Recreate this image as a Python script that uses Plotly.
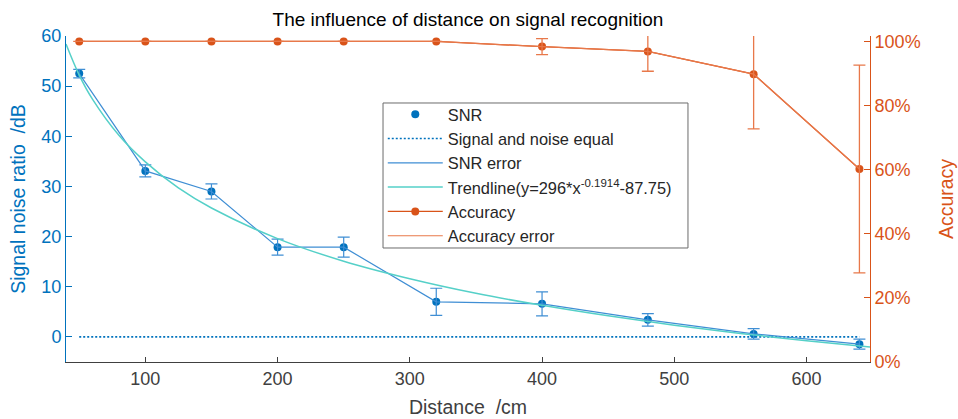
import plotly.graph_objects as go

# ---- data ----
distance = [50, 100, 150, 200, 250, 320, 400, 480, 560, 640]
snr = [52.5, 33.1, 29.0, 17.9, 17.9, 7.0, 6.6, 3.4, 0.6, -1.45]
snr_err = [0.85, 1.2, 1.5, 1.6, 2.0, 2.7, 2.4, 1.25, 1.05, 1.0]
accuracy = [100, 100, 100, 100, 100, 100, 98.4, 96.9, 89.8, 60.2]
accuracy_err = [0, 0, 0, 0, 0, 0, 2.5, 6.2, 17.1, 32.4]
equal_x = [50, 640]
equal_y = [0, 0]
trend_x = [40, 50, 60, 80, 100, 125, 150, 200, 250, 300, 350, 400, 450, 500, 550, 600, 648]
trend_y = [58.4, 52.2, 47.4, 40.2, 34.9, 29.7, 25.7, 19.6, 15.1, 11.6, 8.7, 6.3, 4.2, 2.35, 0.7, -0.75, -2.0]
x_ticks = [100, 200, 300, 400, 500, 600]
y_ticks = [0, 10, 20, 30, 40, 50, 60]
acc_ticks = [0, 20, 40, 60, 80, 100]
acc_tick_labels = ["0%", "20%", "40%", "60%", "80%", "100%"]

BLUE = "#0072BD"
BLUE_ERR = "#3F8ED4"
TREND = "#55D0C8"
ORANGE = "#D95319"
ORANGE_ERR = "#E8784A"
FONT = "Liberation Sans, Arial, sans-serif"

fig = go.Figure()
fig.add_trace(go.Scatter(x=distance, y=snr, mode="markers", name="SNR",
                         marker=dict(color=BLUE, size=8)))
fig.add_trace(go.Scatter(x=equal_x, y=equal_y, mode="lines", name="Signal and noise equal",
                         line=dict(color=BLUE, width=1.6, dash="2px,2px")))
fig.add_trace(go.Scatter(x=distance, y=snr, mode="lines", name="SNR error",
                         line=dict(color=BLUE_ERR, width=1.2),
                         error_y=dict(type="data", array=snr_err, color=BLUE_ERR,
                                      thickness=1.2, width=6)))
fig.add_trace(go.Scatter(x=trend_x, y=trend_y, mode="lines", line_shape="spline",
                         name="Trendline(y=296*x<sup>-0.1914</sup>-87.75)",
                         line=dict(color=TREND, width=1.5)))
fig.add_trace(go.Scatter(x=distance, y=accuracy, mode="lines+markers", name="Accuracy",
                         yaxis="y2", line=dict(color=ORANGE, width=1.3),
                         marker=dict(color=ORANGE, size=8)))
fig.add_trace(go.Scatter(x=distance, y=accuracy, mode="lines", name="Accuracy error",
                         yaxis="y2", line=dict(color=ORANGE_ERR, width=1.2),
                         error_y=dict(type="data", array=accuracy_err, color=ORANGE_ERR,
                                      thickness=1.3, width=6)))

# legend frame (drawn as a shape so its size matches the reference box)
fig.add_shape(type="rect", xref="paper", yref="paper",
              x0=0.3943, x1=0.7736, y0=0.3497, y1=0.7945,
              line=dict(color="#6b6b6b", width=1), fillcolor="white", layer="above")

fig.update_layout(
    width=958, height=419,
    margin=dict(l=66, r=88, t=36, b=57, autoexpand=False),
    paper_bgcolor="white", plot_bgcolor="white",
    font=dict(family=FONT, size=18, color="#262626"),
    title=dict(text="The influence of distance on signal recognition",
               font=dict(size=19, color="#000000"), x=0.4885, xanchor="center",
               y=0.955, yanchor="middle"),
    xaxis=dict(range=[40, 648], tickvals=x_ticks, showgrid=False, zeroline=False,
               showline=True, linecolor="#404040", linewidth=1,
               ticks="inside", ticklen=5, tickcolor="#404040",
               tickfont=dict(size=18, color="#404040"),
               title=dict(text="Distance \u00a0/cm", font=dict(size=19.5, color="#404040"),
                          standoff=12)),
    yaxis=dict(range=[-5, 60], tickvals=y_ticks, showgrid=False, zeroline=False,
               showline=True, linecolor=BLUE, linewidth=1,
               ticks="inside", ticklen=6, tickcolor=BLUE,
               tickfont=dict(size=18, color=BLUE),
               title=dict(text="Signal noise ratio \u00a0/dB", font=dict(size=19.5, color=BLUE),
                          standoff=10)),
    yaxis2=dict(range=[0, 101.7], overlaying="y", side="right", tickvals=acc_ticks,
                ticktext=acc_tick_labels, showgrid=False, zeroline=False,
                showline=True, linecolor=ORANGE, linewidth=1,
                ticks="inside", ticklen=6, tickcolor=ORANGE,
                tickfont=dict(size=18, color=ORANGE),
                title=dict(text="Accuracy", font=dict(size=19.5, color=ORANGE), standoff=19)),
    legend=dict(x=0.394, y=0.8129, xanchor="left", yanchor="top",
                bgcolor="rgba(0,0,0,0)", borderwidth=0,
                font=dict(size=16.4, color="#262626"), itemwidth=55,
                tracegroupgap=0),
    showlegend=True,
)

fig.write_html("out.html")
